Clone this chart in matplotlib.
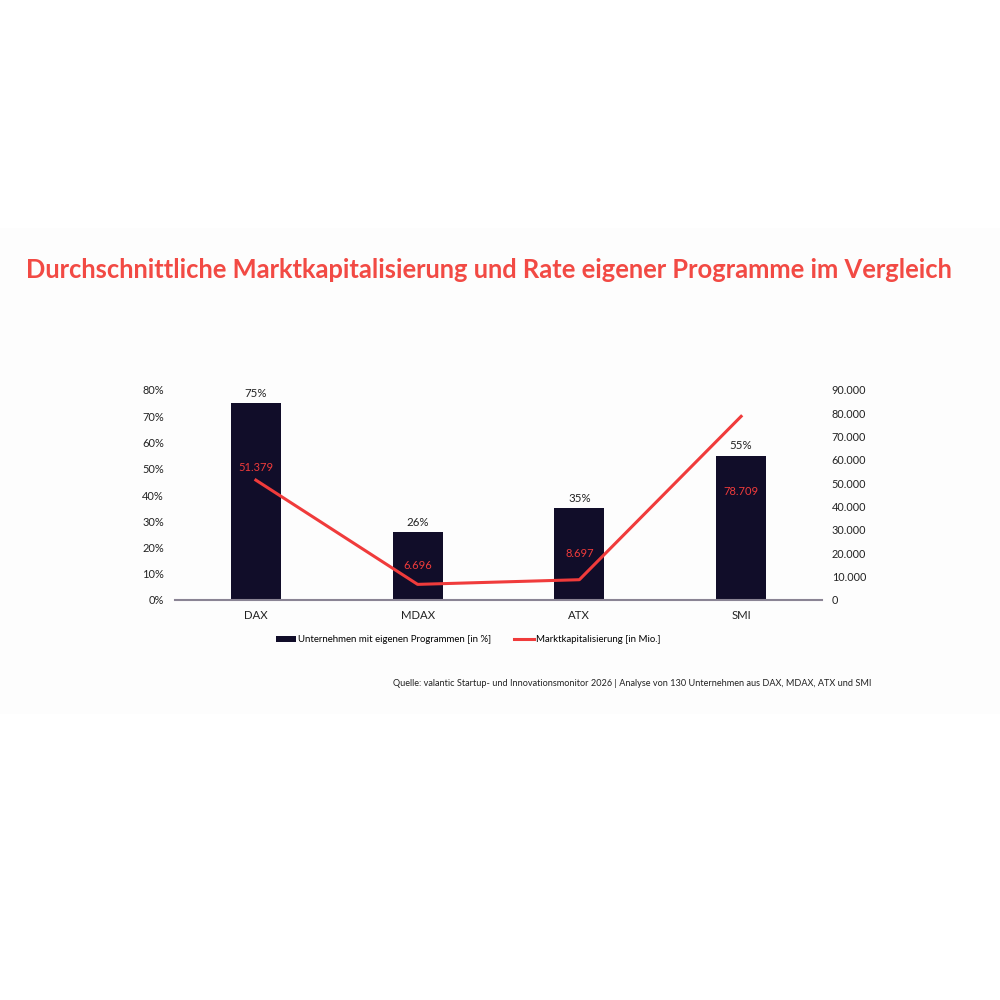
import matplotlib.pyplot as plt
from matplotlib.patches import Rectangle
from matplotlib.ticker import FuncFormatter

categories = ['DAX', 'MDAX', 'ATX', 'SMI']
share_programs = [75, 26, 35, 55]          # in %
market_cap = [51379, 6696, 8697, 78709]    # in Mio.
cap_labels = ['51.379', '6.696', '8.697', '78.709']

navy = '#110d29'
red = '#f03b3b'
txt = '#222222'
font = 'Lato'

fig = plt.figure(figsize=(10, 10), dpi=100)
fig.patch.set_facecolor('white')
# faint panel behind the chart
fig.add_artist(Rectangle((0, 0.286), 1, 0.486, transform=fig.transFigure,
                         facecolor='#fdfdfd', edgecolor='none', zorder=-10))

fig.text(0.489, 0.730, 'Durchschnittliche Marktkapitalisierung und Rate eigener Programme im Vergleich',
         ha='center', va='center', fontsize=18.4, color='#f24a44', family=font, fontweight='bold')

ax = fig.add_axes([0.175, 0.40, 0.647, 0.21])
ax.set_facecolor('none')
x = list(range(len(categories)))
bars = ax.bar(x, share_programs, width=0.31, color=navy, label='Unternehmen mit eigenen Programmen [in %]', zorder=2)
ax.set_ylim(0, 80)
ax.set_xlim(-0.5, 3.5)
ax.set_yticks(range(0, 81, 10))
ax.yaxis.set_major_formatter(FuncFormatter(lambda v, p: f'{int(v)}%'))
ax.set_xticks(x)
ax.set_xticklabels(categories)
for s in ['top', 'right', 'left']:
    ax.spines[s].set_visible(False)
ax.spines['bottom'].set_color('#8a8494')
ax.spines['bottom'].set_linewidth(1.5)
ax.tick_params(axis='y', length=0, labelsize=7.9, colors=txt, pad=8)
ax.tick_params(axis='x', length=0, labelsize=8.2, colors=txt, pad=7)
for lab in ax.get_xticklabels() + ax.get_yticklabels():
    lab.set_family(font)

for xi, v in zip(x, share_programs):
    ax.annotate(f'{v}%', (xi, v), xytext=(0, 3), textcoords='offset points',
                ha='center', va='bottom', fontsize=8.3, color=txt, family=font)

ax2 = ax.twinx()
ax2.plot(x, market_cap, color=red, linewidth=2.2, label='Marktkapitalisierung [in Mio.]', zorder=3)
ax2.set_ylim(0, 90000)
ax2.set_yticks(range(0, 90001, 10000))
ax2.yaxis.set_major_formatter(FuncFormatter(lambda v, p: f'{int(v):,}'.replace(',', '.')))
for s in ['top', 'right', 'left', 'bottom']:
    ax2.spines[s].set_visible(False)
ax2.tick_params(length=0, labelsize=7.8, colors=txt, pad=7)
for lab in ax2.get_yticklabels():
    lab.set_family(font)

offsets = [(0, 9.4), (0, 13.3), (0, 19.2), (0, -53.8)]
for xi, v, lab, off in zip(x, market_cap, cap_labels, offsets):
    ax2.annotate(lab, (xi, v), xytext=off, textcoords='offset points',
                 ha='center', va='center', fontsize=8, color=red, family=font)

h1, l1 = ax.get_legend_handles_labels()
h2, l2 = ax2.get_legend_handles_labels()
fig.legend(h1 + h2, l1 + l2, loc='center', bbox_to_anchor=(0.468, 0.360), ncol=2,
           frameon=False, prop={'family': font, 'size': 6.9}, handlelength=2.1,
           handletextpad=0.2, columnspacing=2.4, handleheight=0.6)

fig.text(0.871, 0.317, 'Quelle: valantic Startup- und Innovationsmonitor 2026 | Analyse von 130 Unternehmen aus DAX, MDAX, ATX und SMI',
         ha='right', va='center', fontsize=6.6, color=txt, family=font)

fig.savefig('out.png', dpi=100, facecolor='white')
